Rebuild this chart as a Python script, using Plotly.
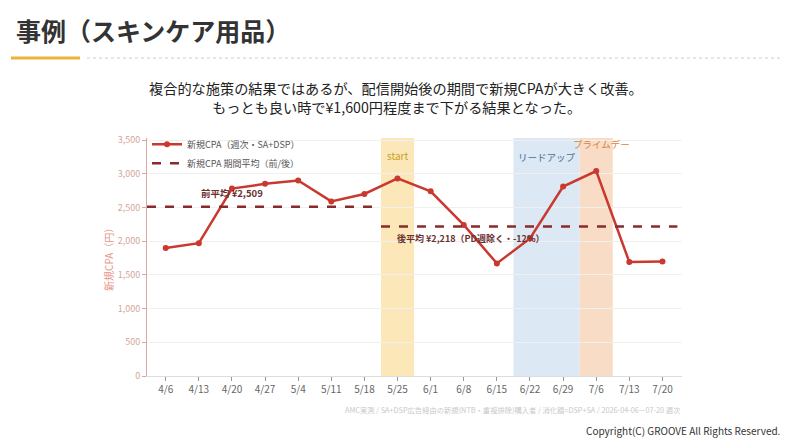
import plotly.graph_objects as go

weeks = ["4/6", "4/13", "4/20", "4/27", "5/4", "5/11", "5/18", "5/25",
         "6/1", "6/8", "6/15", "6/22", "6/29", "7/6", "7/13", "7/20"]
cpa = [1900, 1970, 2780, 2850, 2900, 2590, 2700, 2930,
       2740, 2240, 1670, 2040, 2810, 3040, 1690, 1700]
pre_avg = 2509
post_avg = 2218
y_ticks = [0, 500, 1000, 1500, 2000, 2500, 3000, 3500]
y_ticktext = ["0", "500", "1,000", "1,500", "2,000", "2,500", "3,000", "3,500"]
subtitle_lines = ["複合的な施策の結果ではあるが、配信開始後の期間で新規CPAが大きく改善。",
                  "もっとも良い時で¥1,600円程度まで下がる結果となった。"]

FONT = "Noto Sans CJK JP"
OFF = 8  # page body margin
W, H = 791 - OFF, 444 - OFF
L, R, T, B = 147 - OFF, 682 - OFF, 138 - OFF, 376 - OFF  # plot area pixel bounds within figure

def px(x):
    return (x - OFF - L) / (R - L)

def py(y):
    return (B - (y - OFF)) / (B - T)

xi = list(range(len(weeks)))
x_lo, x_hi = -0.565, 15.59
split = xi[weeks.index("5/25")] - 0.5

fig = go.Figure()

fig.add_trace(go.Scatter(
    x=xi, y=cpa, mode="lines+markers", name="新規CPA（週次・SA+DSP）",
    line=dict(color="#c9392f", width=2.5),
    marker=dict(color="#c9392f", size=6),
))
fig.add_trace(go.Scatter(
    x=[x_lo, split], y=[pre_avg, pre_avg], mode="lines",
    name="新規CPA 期間平均（前/後）", legendgroup="avg",
    line=dict(color="#8a2a2a", width=2.5, dash="dash"),
))
fig.add_trace(go.Scatter(
    x=[split, 15.45], y=[post_avg, post_avg], mode="lines",
    name="新規CPA 期間平均（前/後）", legendgroup="avg", showlegend=False,
    line=dict(color="#8a2a2a", width=2.5, dash="dash"),
))

bands = [("5/25", "5/25", "#fbe7b8"), ("6/22", "6/29", "#dce8f3"), ("7/6", "7/6", "#f9dcc5")]
shapes = []
for a, b, c in bands:
    shapes.append(dict(type="rect", xref="x", yref="paper",
                       x0=weeks.index(a) - 0.5, x1=weeks.index(b) + 0.5, y0=0, y1=1,
                       fillcolor=c, line=dict(width=0), layer="below"))

# header lines
shapes.append(dict(type="line", xref="paper", yref="paper",
                   x0=px(11), x1=px(80), y0=py(58), y1=py(58),
                   line=dict(color="#e8b53a", width=3)))
shapes.append(dict(type="line", xref="paper", yref="paper",
                   x0=px(87), x1=px(781), y0=py(58), y1=py(58),
                   line=dict(color="#cccccc", width=1, dash="dot")))

annotations = [
    dict(x=weeks.index("5/25"), y=3265, xref="x", yref="y", text="start", showarrow=False,
         font=dict(family=FONT, size=10, color="#c9a227")),
    dict(x=11.5, y=3255, xref="x", yref="y", text="リードアップ", showarrow=False,
         font=dict(family=FONT, size=9.5, color="#4a6d96")),
    dict(x=13.15, y=3440, xref="x", yref="y", text="プライムデー", showarrow=False,
         font=dict(family=FONT, size=9.5, color="#e0823a")),
    dict(x=2.0, y=2716, xref="x", yref="y", text="<b>前平均 ¥2,509</b>", showarrow=False,
         font=dict(family=FONT, size=9.5, color="#6b3030")),
    dict(x=6.92, y=2046, xref="x", yref="y", text="<b>後平均 ¥2,218（PD週除く・-12%）</b>",
         showarrow=False, xanchor="left",
         font=dict(family=FONT, size=9, color="#6b3030")),
    # page title
    dict(x=px(14), y=py(30), xref="paper", yref="paper", text="<b>事例（スキンケア用品）</b>",
         showarrow=False, xanchor="left", yanchor="middle",
         font=dict(family=FONT, size=25, color="#333333")),
    dict(x=px(683), y=py(410), xref="paper", yref="paper",
         text="AMC実測 / SA+DSP広告経由の新規(NTB・重複排除)購入者 / 消化額=DSP+SA / 2026-04-06—07-20 週次",
         showarrow=False, xanchor="right", yanchor="middle",
         font=dict(family=FONT, size=7.3, color="#c8c8c8")),
    dict(x=px(783), y=py(430), xref="paper", yref="paper",
         text="Copyright(C) GROOVE All Rights Reserved.",
         showarrow=False, xanchor="right", yanchor="middle",
         font=dict(family=FONT, size=10, color="#333333")),
    dict(x=px(108), y=py(257), xref="paper", yref="paper", text="新規CPA（円）",
         showarrow=False, textangle=-90, xanchor="center", yanchor="middle",
         font=dict(family=FONT, size=10, color="#e8968a")),
]
for line_text, ypix in zip(subtitle_lines, [88, 106.5]):
    annotations.append(dict(x=px(396), y=py(ypix), xref="paper", yref="paper",
                            text=line_text, showarrow=False, xanchor="center", yanchor="middle",
                            font=dict(family=FONT, size=14.2, color="#222222")))

fig.update_layout(
    width=W, height=H,
    margin=dict(l=L, r=W - R, t=T, b=H - B, pad=0),
    paper_bgcolor="white", plot_bgcolor="white",
    font=dict(family=FONT),
    showlegend=True,
    legend=dict(x=0.0, y=1.035, xanchor="left", yanchor="top",
                bgcolor="rgba(0,0,0,0)", font=dict(family=FONT, size=9, color="#555555"),
                tracegroupgap=0, itemwidth=30),
    shapes=shapes, annotations=annotations,
    xaxis=dict(range=[x_lo, x_hi], tickmode="array", tickvals=xi, ticktext=weeks,
               showgrid=False, zeroline=False, showline=True, linecolor="#dddddd",
               ticks="outside", ticklen=4, tickcolor="#999999",
               tickfont=dict(family=FONT, size=10, color="#666666")),
    yaxis=dict(range=[0, 3530], tickmode="array", tickvals=y_ticks, ticktext=y_ticktext,
               showgrid=True, gridcolor="#f0f0f0", zeroline=False,
               showline=True, linecolor="#d9a8a0", ticks="outside", ticklen=4,
               tickcolor="#d9a8a0", tickfont=dict(family=FONT, size=9, color="#d4a59a")),
)

fig.write_html("out.html")
